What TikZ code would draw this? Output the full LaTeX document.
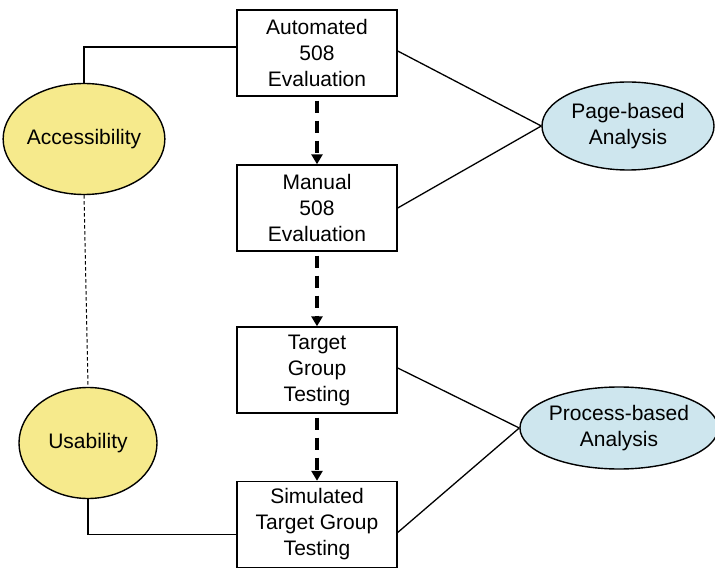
\documentclass[tikz,border=0pt]{standalone}
\usepackage{fontspec}
\setmainfont{Liberation Sans}
\usetikzlibrary{shapes.geometric, arrows.meta}
\definecolor{goalyellow}{RGB}{246,234,140}
\definecolor{kindblue}{RGB}{206,230,238}

\begin{document}
\begin{tikzpicture}[x=1pt, y=-1pt, font=\fontsize{21}{26}\selectfont,
  stage/.style={draw, line width=1.4pt, fill=white, minimum width=160pt,
    minimum height=86pt, inner sep=0pt, align=center},
  goal/.style={ellipse, draw, line width=1.4pt, fill=goalyellow, inner sep=0pt,
    minimum width=138pt, minimum height=111pt, align=center},
  kind/.style={ellipse, draw, line width=1.4pt, fill=kindblue, inner sep=0pt,
    align=center},
  link/.style={line width=1.3pt},
  flow/.style={line width=3.4pt, dash pattern=on 12pt off 8pt, shorten <=4pt,
    -{Triangle[width=11pt, length=10pt]}}]
  \useasboundingbox (0,0) rectangle (715,569);

  % evaluation stages
  \node[stage] (auto) at (317,53) {Automated\\508\\Evaluation};
  \node[stage] (manual) at (317,208) {Manual\\508\\Evaluation};
  \node[stage] (target) at (317,370) {Target\\Group\\Testing};
  \node[stage] (sim) at (317,524.5) {Simulated\\Target Group\\Testing};

  % goals
  \node[goal] (acc) at (84,139) {Accessibility};
  \node[goal] (use) at (88,443) {Usability};

  % kinds of analysis
  \node[kind, minimum width=172pt, minimum height=88pt] (page) at (628,126) {Page-based\\Analysis};
  \node[kind, minimum width=180pt, minimum height=82pt] (proc) at (619,428) {Process-based\\Analysis};

  % order of the stages
  \draw[flow] (auto) -- (manual);
  \draw[flow] (manual) -- (target);
  \draw[flow] (target) -- (sim);

  % goals to stages
  \draw[link] (acc.north) |- ([yshift=6pt]auto.west);
  \draw[link] (use.south) |- ([yshift=-10pt]sim.west);
  \draw[line width=1pt, dash pattern=on 3.5pt off 2.5pt] (acc.south) -- (use.north);

  % stages to analysis
  \draw[link] ([yshift=2pt]auto.east) -- (page.west);
  \draw[link] (manual.east) -- (page.west);
  \draw[link] ([yshift=2pt]target.east) -- (proc.west);
  \draw[link] ([yshift=-8pt]sim.east) -- (proc.west);
\end{tikzpicture}
\end{document}
